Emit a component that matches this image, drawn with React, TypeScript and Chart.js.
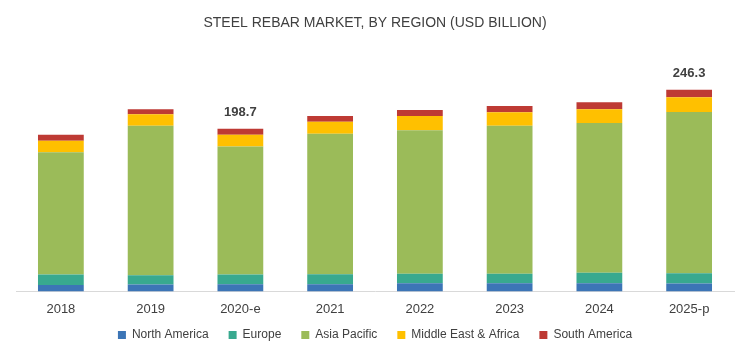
import React, { useEffect, useRef } from "react";
import { Chart, registerables } from "chart.js";

Chart.register(...registerables);

const categories = ["2018", "2019", "2020-e", "2021", "2022", "2023", "2024", "2025-p"];
const northAmerica = [7.9, 8.3, 8.8, 8.8, 10.0, 10.0, 10.0, 9.8];
const europe = [12.8, 11.5, 11.7, 12.2, 11.7, 11.7, 12.9, 12.5];
const asiaPacific = [149.4, 182.4, 156.6, 171.5, 175.2, 180.5, 182.9, 196.7];
const middleEastAfrica = [13.8, 14.3, 14.3, 14.6, 17.4, 16.7, 16.7, 18.3];
const southAmerica = [7.3, 6.1, 7.3, 7.0, 7.3, 7.7, 8.5, 9.0];
const totalLabels = ["", "", "198.7", "", "", "", "", "246.3"];

const seriesNames = ["North America", "Europe", "Asia Pacific", "Middle East & Africa", "South America"];
const seriesColors = ["#3C75B6", "#38A98F", "#9BBB59", "#FFC000", "#BE3A34"];

const FONT = "'Liberation Sans', Arial, sans-serif";

const totalLabelPlugin = {
  id: "totalLabels",
  afterDatasetsDraw(chart: any) {
    const ctx = chart.ctx;
    const last = chart.data.datasets.length - 1;
    const meta = chart.getDatasetMeta(last);
    ctx.save();
    ctx.font = `bold 13px ${FONT}`;
    ctx.fillStyle = "#404040";
    ctx.textAlign = "center";
    ctx.textBaseline = "bottom";
    totalLabels.forEach((t, i) => {
      if (!t) return;
      const el = meta.data[i];
      ctx.fillText(t, el.x, el.y - 10);
    });
    ctx.restore();
  },
};

export default function App() {
  const ref = useRef<HTMLCanvasElement>(null);
  useEffect(() => {
    const data = [northAmerica, europe, asiaPacific, middleEastAfrica, southAmerica];
    const chart = new Chart(ref.current!, {
      type: "bar",
      data: {
        labels: categories,
        datasets: data.map((d, i) => ({
          label: seriesNames[i],
          data: d,
          backgroundColor: seriesColors[i],
          borderWidth: 0,
          barPercentage: 0.51,
          categoryPercentage: 1,
        })),
      },
      options: {
        animation: false,
        responsive: false,
        maintainAspectRatio: false,
        layout: { padding: { left: 16, right: 9, top: 11, bottom: 4 } },
        plugins: {
          title: {
            display: true,
            text: "STEEL REBAR MARKET, BY REGION (USD BILLION)",
            color: "#404040",
            font: { size: 14, family: FONT, weight: "normal" },
            padding: { top: 4, bottom: 14 },
          },
          legend: {
            position: "bottom",
            labels: {
              boxWidth: 8,
              boxHeight: 8,
              color: "#404040",
              font: { size: 12, family: FONT },
              padding: 10,
              generateLabels: (c: any) => {
                const items = Chart.defaults.plugins.legend.labels.generateLabels(c);
                return items.map((it: any, i: number) => ({
                  ...it,
                  text: i < items.length - 1 ? it.text + "   " : it.text,
                }));
              },
            },
          },
          tooltip: { enabled: false },
        },
        scales: {
          x: {
            stacked: true,
            grid: { display: false },
            border: { display: true, color: "#d9d9d9", width: 1 },
            ticks: {
              color: "#404040",
              font: { size: 13, family: FONT },
              padding: 2,
            },
          },
          y: {
            stacked: true,
            display: false,
            min: 0,
            max: 300,
          },
        },
      },
      plugins: [totalLabelPlugin],
    });
    return () => chart.destroy();
  }, []);
  return (
    <div style={{ position: "fixed", left: 0, top: 0, width: 743, height: 355, background: "#fff" }}>
      <canvas ref={ref} width={743} height={355} />
    </div>
  );
}
